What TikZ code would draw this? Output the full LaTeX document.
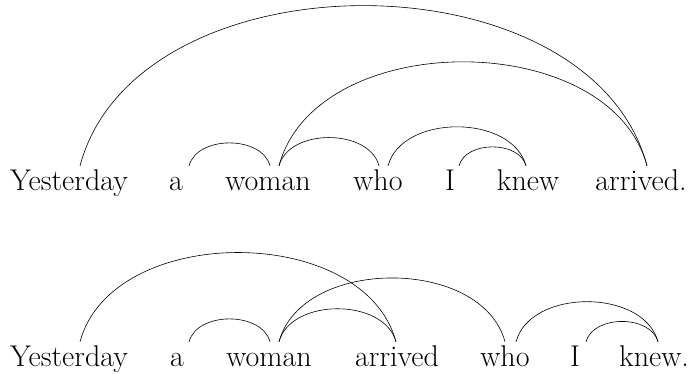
\documentclass[tikz,border=0pt]{standalone}
\usepackage{tikz}
\begin{document}
\begin{tikzpicture}[x=1pt,y=1pt,
  word/.style={anchor=base,inner sep=0pt,text height=25pt,text depth=0pt,font=\fontsize{30}{32}\selectfont},
  arc/.style={line width=0.6pt,out=75,in=105}]
\useasboundingbox (0,0) rectangle (690,374);
% row 1 (baseline at y=183)
\node[word] (y1) at (69,183) {Yesterday};
\node[word] (a1) at (176,183) {a};
\node[word] (wo1) at (268,183) {woman};
\node[word] (wh1) at (378,183) {who};
\node[word] (i1) at (450,183) {I};
\node[word] (k1) at (528,183) {knew};
\node[word] (ar1) at (641,183) {arrived.};
\draw[arc] ([xshift=11pt]y1.north) to ([xshift=6pt]ar1.north);
\draw[arc] ([xshift=13pt]a1.north) to ([xshift=2pt]wo1.north);
\draw[arc] ([xshift=11pt]wo1.north) to ([xshift=6pt]ar1.north);
\draw[arc] ([xshift=11pt]wo1.north) to ([xshift=1pt]wh1.north);
\draw[arc] ([xshift=10pt]wh1.north) to ([xshift=-2pt]k1.north);
\draw[arc] ([xshift=9pt]i1.north) to ([xshift=-2pt]k1.north);
% row 2 (baseline at y=7)
\node[word] (y2) at (69,7) {Yesterday};
\node[word] (a2) at (177,7) {a};
\node[word] (wo2) at (269,7) {woman};
\node[word] (ar2) at (397,7) {arrived};
\node[word] (wh2) at (505,7) {who};
\node[word] (i2) at (575,7) {I};
\node[word] (k2) at (654,7) {knew.};
\draw[arc] ([xshift=11pt]y2.north) to ([xshift=-1pt]ar2.north);
\draw[arc] ([xshift=12pt]a2.north) to ([xshift=1pt]wo2.north);
\draw[arc] ([xshift=10pt]wo2.north) to ([xshift=0pt]wh2.north);
\draw[arc] ([xshift=10pt]wo2.north) to ([xshift=-1pt]ar2.north);
\draw[arc] ([xshift=11pt]wh2.north) to ([xshift=4pt]k2.north);
\draw[arc] ([xshift=11pt]i2.north) to ([xshift=4pt]k2.north);
\end{tikzpicture}
\end{document}
